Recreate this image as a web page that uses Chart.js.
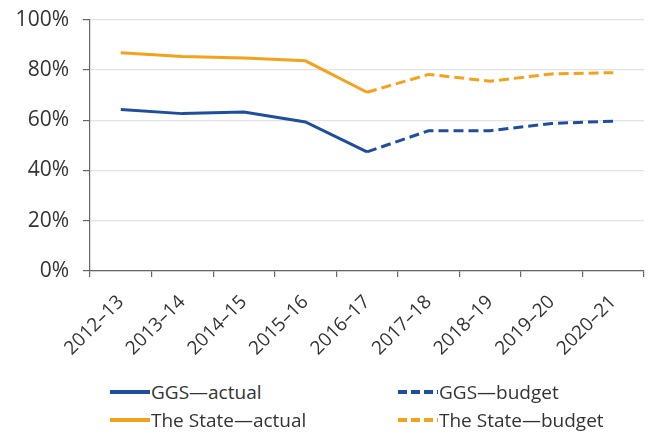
<!DOCTYPE html>
<html>
<head>
<meta charset="utf-8">
<script src="https://cdn.jsdelivr.net/npm/chart.js@4/dist/chart.umd.min.js"></script>
<style>
  html, body { margin: 0; padding: 0; background: #fff; overflow: hidden; }
  #wrap { position: relative; width: 648px; height: 435px; overflow: hidden; }
  #box { position: absolute; left: 0; top: -7px; width: 648px; height: 374px; }
  #legend {
    position: absolute; left: 110px; top: 380px;
    display: grid; grid-template-columns: 288px 240px; row-gap: 5px;
    font-family: "Open Sans", sans-serif; font-size: 19px; color: #333;
  }
  .item { display: flex; align-items: center; height: 23px; white-space: nowrap; }
  .item canvas { display: block; margin-right: 1px; }
</style>
</head>
<body>
<div id="wrap">
  <div id="box"><canvas id="debtChart"></canvas></div>
  <div id="legend"></div>
</div>
<script>
  // financial years on the x axis
  var years = ['2012–13', '2013–14', '2014–15', '2015–16', '2016–17',
               '2017–18', '2018–19', '2019–20', '2020–21'];

  // percentages, actuals up to 2016-17 then budget estimates
  var ggsActual   = [64.2, 62.6, 63.2, 59.3, 47.4, null, null, null, null];
  var ggsBudget   = [null, null, null, null, 47.4, 55.8, 55.8, 58.7, 59.6];
  var stateActual = [86.8, 85.3, 84.7, 83.6, 71.1, null, null, null, null];
  var stateBudget = [null, null, null, null, 71.1, 78.2, 75.5, 78.4, 78.9];

  var yTicks = [0, 20, 40, 60, 80, 100];

  var BLUE = '#1d4f9e';
  var ORANGE = '#f4a11c';
  var DASH = [10, 5];

  function series(label, data, color, dashed) {
    return {
      label: label,
      data: data,
      borderColor: color,
      backgroundColor: color,
      borderWidth: 3,
      borderDash: dashed ? DASH : [],
      pointRadius: 0,
      tension: 0,
      fill: false,
      spanGaps: false
    };
  }

  var datasets = [
    series('GGS—actual', ggsActual, BLUE, false),
    series('GGS—budget', ggsBudget, BLUE, true),
    series('The State—actual', stateActual, ORANGE, false),
    series('The State—budget', stateBudget, ORANGE, true)
  ];

  var font = { family: '"Open Sans", sans-serif', size: 19 };

  var chart = new Chart(document.getElementById('debtChart'), {
    type: 'line',
    data: { labels: years, datasets: datasets },
    options: {
      responsive: true,
      maintainAspectRatio: false,
      animation: false,
      layout: { padding: { top: 0, right: 4, left: 0, bottom: 0 } },
      plugins: {
        legend: { display: false },
        tooltip: { enabled: false }
      },
      scales: {
        x: {
          offset: true,
          grid: {
            offset: true,
            drawOnChartArea: false,
            drawTicks: true,
            tickLength: 6,
            color: '#666',
            lineWidth: 1.2
          },
          border: { display: true, color: '#666', width: 1.2 },
          ticks: {
            color: '#333',
            font: font,
            minRotation: 45,
            maxRotation: 45,
            autoSkip: false,
            padding: 14
          },
          afterFit: function (scale) { scale.height = 96; }
        },
        y: {
          min: 0,
          max: 100,
          afterBuildTicks: function (scale) {
            scale.ticks = yTicks.map(function (v) { return { value: v }; });
          },
          grid: {
            color: '#e3e3e3',
            lineWidth: 1.2,
            tickLength: 7,
            tickColor: '#666'
          },
          border: { display: true, color: '#666', width: 1.2 },
          ticks: {
            color: '#333',
            font: { family: '"Open Sans", sans-serif', size: 21 },
            padding: 14,
            callback: function (v) { return v + '%'; }
          },
          afterFit: function (scale) { scale.width = 90; }
        }
      }
    }
  });

  // legend in two columns: actual | budget
  var legend = document.getElementById('legend');
  [0, 1, 2, 3].forEach(function (i) {
    var ds = chart.data.datasets[i];
    var item = document.createElement('div');
    item.className = 'item';
    var c = document.createElement('canvas');
    c.width = 40; c.height = 10;
    var ctx = c.getContext('2d');
    ctx.strokeStyle = ds.borderColor;
    ctx.lineWidth = 4;
    ctx.setLineDash(ds.borderDash.length ? [9, 4] : []);
    ctx.beginPath();
    ctx.moveTo(0, 5);
    ctx.lineTo(40, 5);
    ctx.stroke();
    item.appendChild(c);
    var span = document.createElement('span');
    span.textContent = ds.label;
    item.appendChild(span);
    legend.appendChild(item);
  });
</script>
</body>
</html>
